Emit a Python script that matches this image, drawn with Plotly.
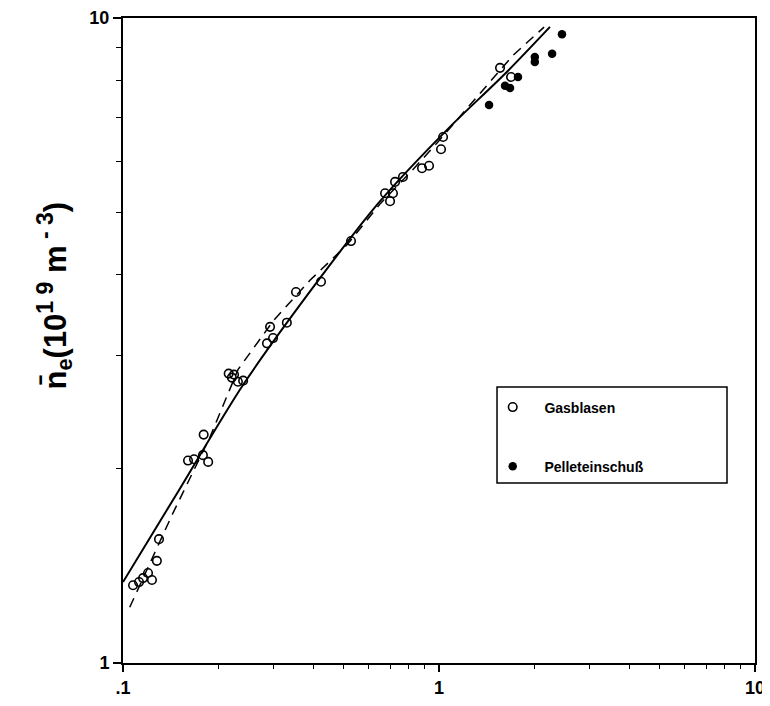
import plotly.graph_objects as go

# Gasblasen (open circles)
gas_x = [0.1076, 0.1124, 0.1157, 0.120, 0.1235, 0.128, 0.130,
         0.1606, 0.1678, 0.179, 0.186, 0.180,
         0.216, 0.2246, 0.221, 0.231, 0.240,
         0.2855, 0.2984, 0.292, 0.330, 0.3527, 0.4233, 0.5267,
         0.675, 0.715, 0.700, 0.726, 0.769, 0.8835, 0.930, 1.015, 1.03,
         1.56, 1.69]
gas_y = [1.32, 1.335, 1.354, 1.379, 1.345, 1.44, 1.556,
         2.06, 2.07, 2.10, 2.05, 2.26,
         2.81, 2.80, 2.77, 2.73, 2.74,
         3.13, 3.19, 3.32, 3.37, 3.76, 3.90, 4.51,
         5.35, 5.35, 5.20, 5.57, 5.67, 5.85, 5.90, 6.26, 6.54,
         8.37, 8.10]

# Pelleteinschuss (filled circles)
pel_x = [1.44, 1.618, 1.678, 1.778, 2.01, 2.01, 2.28, 2.45]
pel_y = [7.33, 7.85, 7.79, 8.10, 8.70, 8.55, 8.80, 9.44]

# solid fit curve
fit_x = [0.100, 0.150, 0.240, 0.420, 0.651, 1.083, 1.60, 2.245]
fit_y = [1.335, 1.85, 2.70, 3.95, 5.20, 6.78, 8.15, 9.69]

# dashed fit curve
dash_x = [0.105, 0.1439, 0.1885, 0.2311, 0.300, 0.3905, 0.5117, 0.651, 0.8213, 0.9855, 1.714, 2.15]
dash_y = [1.22, 1.708, 2.24, 2.85, 3.40, 3.92, 4.45, 5.15, 5.80, 6.40, 8.75, 9.68]

x_ticks = [0.1, 1, 10]
x_ticktext = [".1", "1", "10"]
y_ticks = [1, 10]
y_ticktext = ["1", "10"]
x_minor = [0.2, 0.3, 0.4, 0.5, 0.6, 0.7, 0.8, 0.9, 2, 3, 4, 5, 6, 7, 8, 9]
y_minor = [2, 3, 4, 5, 6, 7, 8, 9]

FONT = "Liberation Sans, Arial, Helvetica, sans-serif"
NB = "\u00a0\u00a0\u00a0"

fig = go.Figure()
fig.add_trace(go.Scatter(x=fit_x, y=fit_y, mode="lines",
                         line=dict(color="black", width=2, shape="spline", smoothing=0.8),
                         showlegend=False, hoverinfo="skip"))
fig.add_trace(go.Scatter(x=dash_x, y=dash_y, mode="lines",
                         line=dict(color="black", width=1.5, dash="10px,7px"),
                         showlegend=False, hoverinfo="skip"))
fig.add_trace(go.Scatter(x=gas_x, y=gas_y, mode="markers", name=NB + "Gasblasen", legendgroup="a",
                         marker=dict(symbol="circle-open", size=8.5, color="black", line=dict(width=1.6))))
fig.add_trace(go.Scatter(x=pel_x, y=pel_y, mode="markers", name=NB + "Pelleteinschuß", legendgroup="b",
                         marker=dict(symbol="circle", size=8.5, color="black")))

axis_common = dict(showline=True, linecolor="black", linewidth=2, mirror=True, showgrid=False,
                   zeroline=False, ticks="outside", tickcolor="black", tickwidth=1.5,
                   automargin=False,
                   tickfont=dict(family=FONT, size=18, color="black", weight="bold"))

fig.update_xaxes(type="log", range=[-1, 1], tickvals=x_ticks, ticktext=x_ticktext, ticklen=7,
                 minor=dict(tickvals=x_minor, ticks="outside", ticklen=4, tickcolor="black", tickwidth=1.2),
                 **axis_common)
fig.update_yaxes(type="log", range=[0, 1], tickvals=y_ticks, ticktext=y_ticktext, ticklen=8,
                 minor=dict(tickvals=y_minor, ticks="outside", ticklen=5, tickcolor="black", tickwidth=1.2),
                 **axis_common)

# legend box
fig.add_shape(type="rect", xref="paper", yref="paper", x0=0.5918, x1=0.9557, y0=0.279, y1=0.428,
              line=dict(color="black", width=1.5), fillcolor="rgba(0,0,0,0)")

fig.add_annotation(xref="paper", yref="paper", x=-0.147, y=0.57, textangle=-90, showarrow=False,
                   text="n\u0304<sub>e</sub>(10<sup><span style='font-size:23px'>1 9</span></sup> m<sup><span style='font-size:23px'> - 3</span></sup>)",
                   font=dict(family=FONT, size=31, color="black", weight="bold"))

fig.update_layout(
    width=762, height=698,
    margin=dict(l=115, r=15, t=10, b=43),
    paper_bgcolor="white", plot_bgcolor="white",
    legend=dict(x=0.585, y=0.421, xanchor="left", yanchor="top", bgcolor="rgba(0,0,0,0)",
                borderwidth=0, tracegroupgap=38,
                font=dict(family=FONT, size=14, color="black", weight="bold")),
)

fig.write_html("out.html")
